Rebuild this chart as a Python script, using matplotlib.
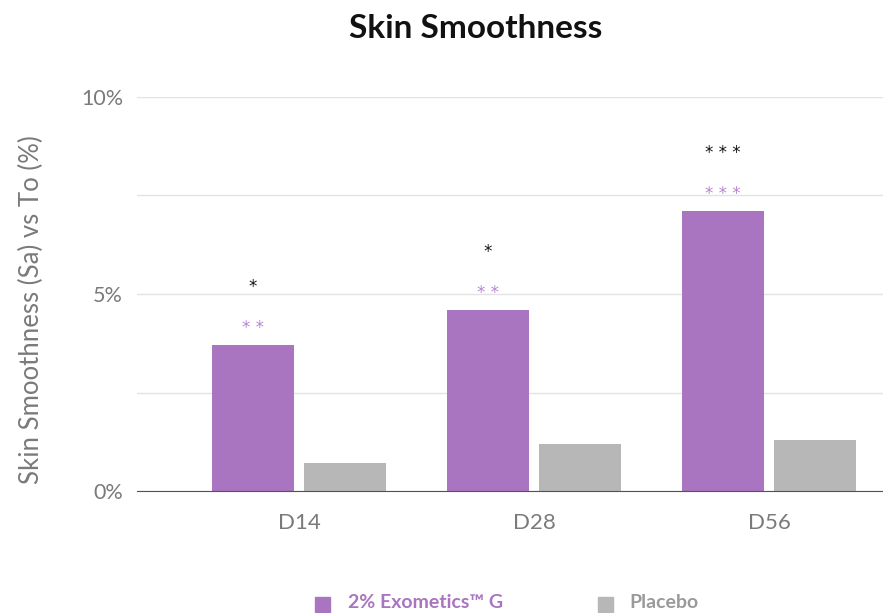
import numpy as np
import matplotlib.pyplot as plt

# data
days = ['D14', 'D28', 'D56']
exometics = [3.7, 4.6, 7.1]
placebo = [0.7, 1.2, 1.3]
sig_vs_t0 = ['**', '**', '***']
sig_vs_placebo = ['*', '*', '***']
yticks = [0, 2.5, 5, 7.5, 10]
ytick_labels = ['0%', '', '5%', '', '10%']

purple = '#a974c0'
grey = '#b7b7b7'
txt = '#7a7a7a'

plt.rcParams['font.family'] = ['Lato', 'DejaVu Sans']

fig = plt.figure(figsize=(8.83, 6.13), dpi=100)
ax = fig.add_axes([137 / 883, 1 - 491 / 613, 1 - 137 / 883, (491 - 97) / 613])

x = np.arange(len(days))
w = 0.35
off = 0.196
ax.bar(x - off, exometics, w, color=purple, zorder=3)
ax.bar(x + off, placebo, w, color=grey, zorder=3)

# significance stars
for i in range(len(days)):
    ax.text(x[i] - off, exometics[i] + 0.2, ' '.join(sig_vs_t0[i]), ha='center', va='bottom',
            color='#b884d0', fontsize=12, family='DejaVu Sans')
    ax.text(x[i] - off, exometics[i] + 1.25, ' '.join(sig_vs_placebo[i]), ha='center', va='bottom',
            color='#111111', fontsize=12, family='DejaVu Sans')

ax.set_xlim(-0.69, 2.485)
ax.set_ylim(0, 10)
ax.set_yticks(yticks)
ax.set_yticklabels(ytick_labels, fontsize=15.5, color=txt)
ax.set_xticks(x)
ax.set_xticklabels(days, fontsize=16, color=txt)
ax.tick_params(axis='y', length=0, pad=10)
ax.tick_params(axis='x', length=0, pad=16)
ax.grid(axis='y', color='#e3e3e3', linewidth=1, zorder=0)
for s in ['top', 'right', 'left']:
    ax.spines[s].set_visible(False)
ax.spines['bottom'].set_color('#4a5560')
ax.spines['bottom'].set_zorder(4)
ax.set_ylabel('Skin Smoothness (Sa) vs To (%)', fontsize=18.5, color=txt)
ax.yaxis.set_label_coords(-0.124, 0.46)

fig.text(476 / 883, 1 - 28 / 613, 'Skin Smoothness', ha='center', va='center',
         fontsize=24, fontweight='bold', color='#111111')

# legend drawn by hand at the bottom
leg = fig.add_axes([0, 0, 1, 30 / 613])
leg.set_xlim(0, 883)
leg.set_ylim(30, 0)
leg.axis('off')
leg.add_patch(plt.Rectangle((315, 14), 15, 15, color=purple))
leg.text(348, 20, '2% Exometics™ G', color=purple, fontsize=14, fontweight='bold', va='center')
leg.add_patch(plt.Rectangle((598, 14), 15, 15, color=grey))
leg.text(629, 20, 'Placebo', color='#9a9a9a', fontsize=14, fontweight='bold', va='center')

fig.savefig('out.png', dpi=100)
